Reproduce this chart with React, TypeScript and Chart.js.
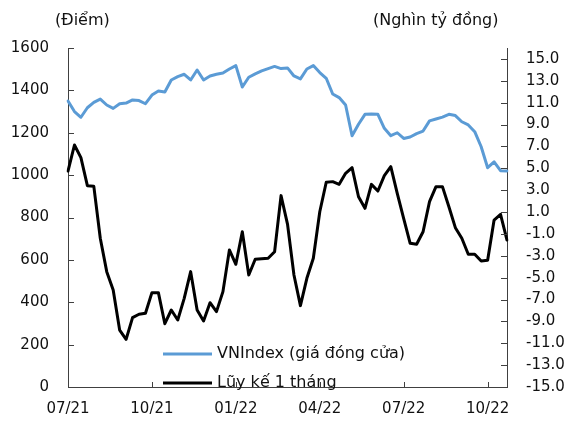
import React, { useEffect, useRef } from "react";
import { Chart, registerables } from "chart.js";

Chart.register(...registerables);

// ---- Data ----
const quarterLabels = ["07/21", "10/21", "01/22", "04/22", "07/22", "10/22"];

const vnIndex = [
  1350, 1300, 1273, 1318, 1343, 1359, 1331, 1315, 1337, 1340,
  1355, 1352, 1337, 1378, 1397, 1392, 1449, 1465, 1476, 1449,
  1496, 1449, 1468, 1476, 1482, 1501, 1517, 1416, 1462, 1478,
  1492, 1503, 1513, 1503, 1506, 1468, 1454, 1501, 1517, 1484,
  1457, 1383, 1366, 1331, 1186, 1240, 1287, 1288, 1287, 1221,
  1186, 1200, 1173, 1180, 1196, 1208, 1256, 1265, 1274, 1287,
  1281, 1252, 1237, 1205, 1134, 1035, 1063, 1021, 1020,
];

const luyKe = [
  4.75, 7.13, 5.97, 3.41, 3.35, -1.4, -4.45, -6.13, -9.79, -10.64,
  -8.66, -8.35, -8.26, -6.37, -6.37, -9.21, -7.96, -8.87, -6.89, -4.45,
  -7.96, -8.96, -7.29, -8.11, -6.28, -2.47, -3.78, -0.8, -4.76, -3.32,
  -3.28, -3.23, -2.63, 2.5, -0.1, -4.76, -7.56, -5.06, -3.23, 1.03,
  3.72, 3.78, 3.53, 4.54, 5.06, 2.4, 1.34, 3.53, 2.92, 4.33,
  5.15, 2.7, 0.4, -1.86, -1.95, -0.8, 1.95, 3.32, 3.32, 1.49,
  -0.43, -1.4, -2.86, -2.86, -3.48, -3.4, 0.27, 0.79, -1.56,
];

const leftTicks = [0, 200, 400, 600, 800, 1000, 1200, 1400, 1600];
const rightTicks = [-15, -13, -11, -9, -7, -5, -3, -1, 1, 3, 5, 7, 9, 11, 13, 15];

const seriesNames = ["VNIndex (giá đóng cửa)", "Lũy kế 1 tháng"];
const axisTitles = ["(Điểm)", "(Nghìn tỷ đồng)"];

const weeksPerQuarter = 13;
const xLabels = vnIndex.map((_, i) =>
  i % weeksPerQuarter === 0 ? quarterLabels[i / weeksPerQuarter] ?? "" : ""
);

// ---- Styles ----
const FONT = "'DejaVu Sans', Verdana, sans-serif";
const BLUE = "#5B9BD5";
const BLACK = "#000000";
const AXIS = "#404040";
const TEXT = "#111111";

const decorPlugin = {
  id: "decor",
  afterDraw(chart: any) {
    const { ctx } = chart;
    const x = chart.scales.x;
    const y = chart.scales.y;
    const y1 = chart.scales.y1;
    ctx.save();
    ctx.strokeStyle = AXIS;
    ctx.lineWidth = 1;
    ctx.beginPath();
    // left inside ticks
    y.ticks.forEach((t: any) => {
      const py = Math.round(y.getPixelForValue(t.value)) + 0.5;
      ctx.moveTo(x.left, py);
      ctx.lineTo(x.left + 6, py);
    });
    // right inside ticks
    y1.ticks.forEach((t: any) => {
      const py = Math.round(y1.getPixelForValue(t.value)) + 0.5;
      ctx.moveTo(x.right - 6, py);
      ctx.lineTo(x.right, py);
    });
    // bottom inside ticks
    x.ticks.forEach((t: any, i: number) => {
      const lab = xLabels[t.value];
      if (!lab || t.value === 0) return;
      const px = Math.round(x.getPixelForTick(i)) + 0.5;
      ctx.moveTo(px, x.top - 5);
      ctx.lineTo(px, x.top);
    });
    ctx.stroke();

    // axis titles
    ctx.fillStyle = TEXT;
    ctx.font = `16px ${FONT}`;
    ctx.textBaseline = "middle";
    ctx.textAlign = "left";
    ctx.fillText(axisTitles[0], 55, 21);
    ctx.fillText(axisTitles[1], 373, 21);

    // legend
    const items = [
      { name: seriesNames[0], color: BLUE, y: 354 },
      { name: seriesNames[1], color: BLACK, y: 383 },
    ];
    items.forEach((it) => {
      ctx.strokeStyle = it.color;
      ctx.lineWidth = 3;
      ctx.beginPath();
      ctx.moveTo(163, it.y);
      ctx.lineTo(212, it.y);
      ctx.stroke();
      ctx.fillStyle = TEXT;
      ctx.fillText(it.name, 217, it.y);
    });
    ctx.restore();
  },
};

export default function App() {
  const ref = useRef<HTMLCanvasElement | null>(null);

  useEffect(() => {
    document.body.style.margin = "0";
    const canvas = ref.current;
    if (!canvas) return;
    const tickFont = { family: FONT, size: 15 };
    const chart = new Chart(canvas, {
      type: "line",
      data: {
        labels: xLabels,
        datasets: [
          {
            label: seriesNames[0],
            data: vnIndex,
            yAxisID: "y",
            borderColor: BLUE,
            backgroundColor: BLUE,
            borderWidth: 3,
            pointRadius: 0,
            tension: 0,
            borderJoinStyle: "round",
            borderCapStyle: "round",
          },
          {
            label: seriesNames[1],
            data: luyKe,
            yAxisID: "y1",
            borderColor: BLACK,
            backgroundColor: BLACK,
            borderWidth: 3,
            pointRadius: 0,
            tension: 0,
            borderJoinStyle: "round",
            borderCapStyle: "round",
          },
        ],
      },
      options: {
        responsive: false,
        animation: false,
        devicePixelRatio: 1,
        layout: { padding: { top: 48, left: 0, right: 0, bottom: 0 } },
        plugins: {
          legend: { display: false },
          tooltip: { enabled: false },
        },
        scales: {
          x: {
            type: "category",
            offset: false,
            grid: { display: false, drawTicks: false },
            border: { display: true, color: AXIS, width: 1 },
            ticks: {
              autoSkip: false,
              maxRotation: 0,
              minRotation: 0,
              padding: 13,
              color: TEXT,
              font: tickFont,
            },
            afterFit: (s: any) => {
              s.height = 35;
            },
          },
          y: {
            position: "left",
            min: 0,
            max: 1600,
            afterBuildTicks: (s: any) => {
              s.ticks = leftTicks.map((v) => ({ value: v }));
            },
            grid: { display: false, drawTicks: false },
            border: { display: true, color: AXIS, width: 1 },
            ticks: {
              padding: 19,
              color: TEXT,
              font: tickFont,
              callback: (v: any) => String(v),
            },
            afterFit: (s: any) => {
              s.width = 68;
            },
          },
          y1: {
            position: "right",
            min: -15,
            max: 16,
            afterBuildTicks: (s: any) => {
              s.ticks = rightTicks.map((v) => ({ value: v }));
            },
            grid: { display: false, drawTicks: false },
            border: { display: true, color: AXIS, width: 1 },
            ticks: {
              padding: 19,
              color: TEXT,
              font: tickFont,
              callback: (v: any) => Number(v).toFixed(1),
            },
            afterFit: (s: any) => {
              s.width = 62;
            },
          },
        },
      },
      plugins: [decorPlugin],
    } as any);
    return () => chart.destroy();
  }, []);

  return <canvas ref={ref} width={569} height={422} style={{ display: "block" }} />;
}
